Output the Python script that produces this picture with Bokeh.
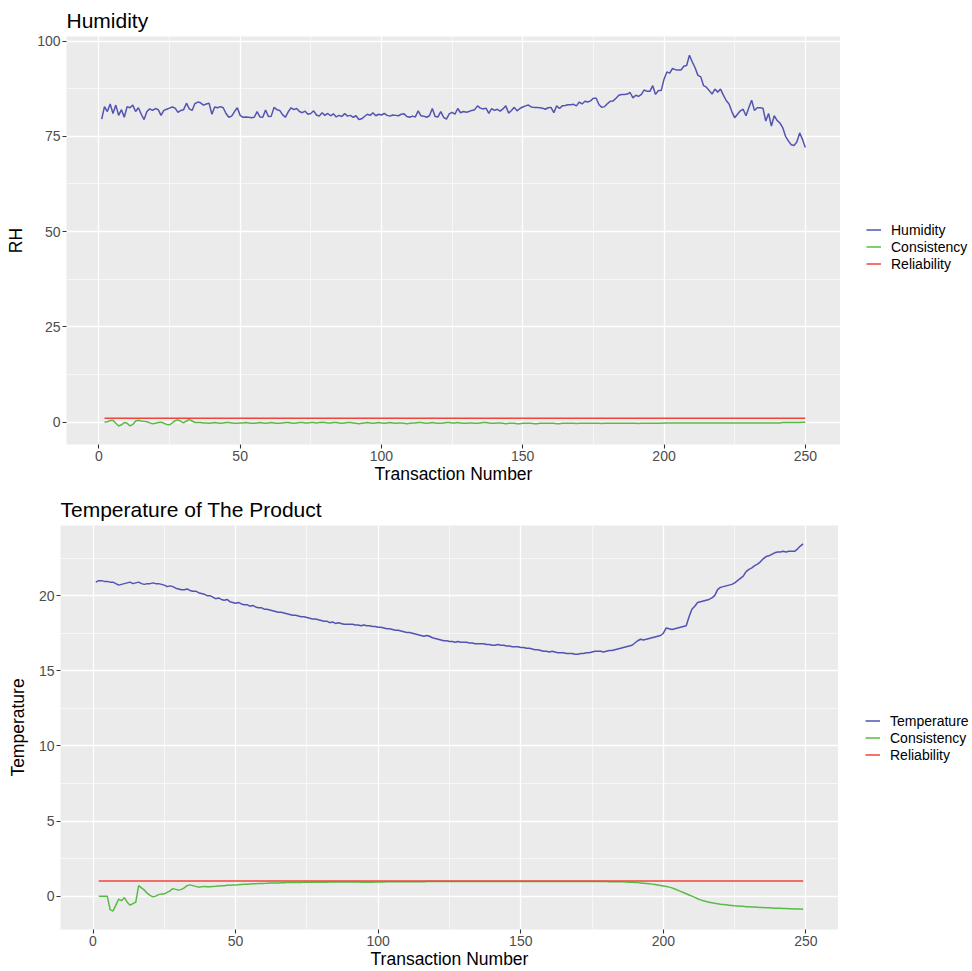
from bokeh.plotting import figure
from bokeh.models import Range1d, SingleIntervalTicker, Legend, LegendItem
from bokeh.layouts import column, row
from bokeh.embed import file_html
from bokeh.resources import INLINE

# ---------------- data ----------------
# Panel 1: Humidity (transactions 1..250)
humidity = [
    79.5, 82.8, 81.5, 83.5, 81.0, 83.2, 80.5, 82.0, 80.0, 82.8,
    82.5, 83.2, 81.5, 82.5, 80.8, 79.4, 81.5, 82.2, 81.8, 82.3,
    82.0, 80.5, 81.8, 82.1, 82.4, 82.7, 82.4, 81.3, 81.8, 82.0,
    83.7, 82.2, 81.8, 83.6, 84.0, 83.8, 83.2, 83.5, 83.7, 80.8,
    82.7, 82.5, 82.8, 82.5, 81.0, 80.0, 80.3, 81.5, 82.5, 80.5,
    80.0, 80.1, 80.0, 79.9, 80.0, 81.5, 80.1, 80.0, 81.9, 80.2,
    80.3, 82.6, 82.0, 81.8, 80.7, 80.0, 81.4, 82.5, 82.0, 82.3,
    81.5, 81.2, 81.6, 80.8, 81.0, 81.7, 80.6, 80.3, 81.2, 80.5,
    81.0, 80.4, 80.9, 80.1, 80.5, 80.2, 81.0, 80.3, 80.5, 80.0,
    80.4, 79.4, 79.6, 80.2, 80.8, 80.5, 81.2, 80.4, 80.8, 80.6,
    81.0, 80.5, 80.3, 80.6, 80.5, 80.4, 80.8, 80.9, 80.2, 80.0,
    80.3, 80.1, 81.7, 80.4, 80.3, 80.0, 80.4, 82.3, 80.2, 80.1,
    81.5, 80.0, 79.5, 80.9, 81.3, 80.8, 82.3, 81.2, 81.5, 81.3,
    81.5, 81.8, 82.0, 83.0, 82.4, 82.2, 82.4, 81.0, 82.3, 81.8,
    82.1, 81.6, 82.2, 83.0, 81.1, 81.8, 82.6, 81.7, 82.3, 82.7,
    83.0, 83.2, 82.7, 82.6, 82.6, 82.5, 82.4, 82.1, 82.5, 82.6,
    81.2, 83.0, 82.3, 83.0, 83.1, 83.3, 83.3, 83.4, 83.0, 84.0,
    83.5, 84.2, 84.0, 84.3, 85.0, 85.0, 83.3, 82.6, 82.8, 83.6,
    84.2, 84.3, 85.0, 85.8, 86.0, 86.0, 86.1, 86.5, 85.1, 85.8,
    85.5, 86.0, 87.2, 86.8, 86.8, 88.3, 86.0, 87.0, 87.0, 90.0,
    91.9, 91.6, 92.8, 92.5, 92.4, 92.4, 93.4, 93.6, 96.3, 94.5,
    93.0, 91.0, 90.6, 88.3, 87.9, 87.0, 86.1, 87.4, 86.6, 87.4,
    85.8, 84.4, 83.5, 81.5, 79.9, 80.8, 81.7, 82.1, 80.4, 82.5,
    84.5, 81.8, 82.5, 82.5, 82.4, 79.0, 81.0, 77.7, 80.4, 79.2,
    78.5, 77.3, 75.0, 73.8, 72.8, 72.6, 73.5, 75.9, 74.2, 72.1,
]
humidity_start = 1

hum_consistency = [
    0.0, 0.1, 0.4, 0.5, -0.3, -1.0, -0.7, -0.1, -0.3, -1.0,
    -0.6, 0.3, 0.5, 0.3, 0.2, 0.1, -0.2, -0.4, -0.3, -0.1,
    0.0, -0.3, -0.6, -0.7, -0.2, 0.4, 0.6, 0.2, -0.2, 0.3,
    0.7, 0.3, -0.1, -0.1,
    -0.1, -0.2, -0.2, -0.3, -0.2, -0.1, -0.2, -0.3, -0.2, -0.1,
    -0.1, -0.2, -0.3, -0.3, -0.2, -0.2, -0.1, -0.2, -0.3, -0.3,
    -0.2, -0.1, -0.2, -0.3, -0.2, -0.1, -0.2, -0.3, -0.3, -0.2,
    -0.1, -0.1, -0.2, -0.3, -0.2, -0.1, -0.1, -0.2, -0.2, -0.1,
    -0.1, -0.2, -0.1, 0.0, -0.1, -0.2, -0.2, -0.1, -0.1, -0.2,
    -0.3, -0.2, -0.1, -0.1, -0.2, -0.3, -0.4, -0.3, -0.2, -0.1,
    -0.2, -0.3, -0.2, -0.1, -0.2, -0.3, -0.2, -0.1, -0.2, -0.3,
    -0.2, -0.2, -0.3, -0.4, -0.3, -0.2, -0.2, -0.1, -0.1, -0.2,
    -0.3, -0.2, -0.1, -0.2, -0.3, -0.3, -0.2, -0.1, -0.1, -0.2,
    -0.2, -0.1, -0.2, -0.3, -0.3, -0.2, -0.2, -0.3, -0.3, -0.2,
    -0.1, -0.1, -0.2, -0.3, -0.3, -0.2, -0.2, -0.3, -0.4, -0.3,
    -0.3, -0.3, -0.4, -0.4, -0.3, -0.3, -0.3, -0.3, -0.4, -0.4,
    -0.3, -0.3, -0.3, -0.3, -0.3, -0.3, -0.4, -0.4, -0.3, -0.3,
    -0.3, -0.3, -0.3, -0.35, -0.3, -0.3, -0.3, -0.3, -0.3, -0.3,
    -0.3, -0.3, -0.35, -0.3, -0.3, -0.3, -0.3, -0.3, -0.3, -0.3,
    -0.3, -0.3, -0.3, -0.3, -0.3, -0.35, -0.3, -0.3, -0.3, -0.3,
    -0.3, -0.3, -0.3, -0.3, -0.2, -0.2, -0.2, -0.2, -0.2, -0.2,
    -0.2, -0.2, -0.2, -0.25, -0.2, -0.2, -0.2, -0.2, -0.2, -0.2,
    -0.2, -0.2, -0.2, -0.2, -0.2, -0.25, -0.2, -0.2, -0.2, -0.2,
    -0.2, -0.2, -0.2, -0.2, -0.2, -0.2, -0.2, -0.2, -0.2, -0.2,
    -0.2, -0.2, -0.2, -0.2, -0.2, -0.2, -0.1, -0.1, -0.1, -0.1,
    -0.1, -0.1, -0.1, 0.0, 0.0,
]
hum_consistency_start = 2

hum_reliability_x = [2, 250]
hum_reliability = [1.0, 1.0]

# Panel 2: Temperature of the product (transactions 1..249)
temperature = [
    20.9, 21.0, 21.0, 20.95, 20.95, 20.9, 20.9, 20.8, 20.7, 20.75,
    20.8, 20.85, 20.9, 20.8, 20.85, 20.9, 20.8, 20.75, 20.8, 20.8,
    20.85, 20.8, 20.8, 20.75, 20.7, 20.6, 20.65, 20.6, 20.5, 20.45,
    20.4, 20.4, 20.45, 20.35, 20.3, 20.3, 20.2, 20.15, 20.1, 20.0,
    20.0, 19.9, 19.8, 19.85, 19.75, 19.7, 19.75, 19.6, 19.55, 19.5,
    19.55, 19.45, 19.4, 19.4, 19.3, 19.35, 19.25, 19.2, 19.2, 19.1,
    19.1, 19.05, 19.0, 18.95, 18.9, 18.9, 18.85, 18.8, 18.75, 18.7,
    18.7, 18.65, 18.6, 18.6, 18.55, 18.5, 18.45, 18.45, 18.4, 18.35,
    18.3, 18.3, 18.2, 18.25, 18.15, 18.2, 18.15, 18.1, 18.1, 18.1,
    18.1, 18.05, 18.05, 18.0, 18.05, 18.0, 18.0, 17.95, 17.95, 17.9,
    17.9, 17.85, 17.8, 17.8, 17.75, 17.7, 17.7, 17.65, 17.6, 17.55,
    17.55, 17.5, 17.45, 17.4, 17.35, 17.3, 17.35, 17.3, 17.2, 17.15,
    17.1, 17.05, 17.0, 17.0, 16.95, 16.95, 16.9, 16.95, 16.9, 16.9,
    16.9, 16.85, 16.85, 16.8, 16.8, 16.8, 16.8, 16.75, 16.75, 16.7,
    16.7, 16.75, 16.7, 16.7, 16.65, 16.65, 16.6, 16.6, 16.6, 16.55,
    16.55, 16.5, 16.5, 16.45, 16.4, 16.4, 16.35, 16.3, 16.3, 16.25,
    16.3, 16.25, 16.2, 16.2, 16.2, 16.15, 16.15, 16.15, 16.1, 16.1,
    16.15, 16.15, 16.2, 16.2, 16.25, 16.3, 16.3, 16.3, 16.25, 16.3,
    16.35, 16.35, 16.4, 16.45, 16.5, 16.55, 16.6, 16.65, 16.7, 16.85,
    17.0, 17.1, 17.05, 17.1, 17.15, 17.2, 17.25, 17.3, 17.35, 17.5,
    17.85, 17.8, 17.75, 17.8, 17.85, 17.9, 17.95, 18.0, 18.6, 19.1,
    19.3, 19.55, 19.6, 19.65, 19.7, 19.75, 19.85, 20.0, 20.4, 20.55,
    20.6, 20.65, 20.7, 20.75, 20.85, 21.0, 21.15, 21.3, 21.6, 21.75,
    21.85, 22.0, 22.1, 22.25, 22.45, 22.6, 22.65, 22.75, 22.85, 22.9,
    22.9, 22.95, 22.9, 22.95, 22.95, 22.95, 23.1, 23.3, 23.45,
]
temperature_start = 1

temp_consistency = [
    0.0, 0.0, 0.0, 0.0, -0.9, -1.0, -0.6, -0.2, -0.3, -0.1,
    -0.4, -0.6, -0.5, -0.4, 0.7, 0.55, 0.4, 0.2, 0.05, -0.05,
    0.0, 0.1, 0.15, 0.15, 0.25, 0.35, 0.5, 0.45, 0.4, 0.45,
    0.55, 0.7, 0.75, 0.7, 0.65, 0.6, 0.62, 0.65, 0.63, 0.62,
    0.65, 0.66, 0.68, 0.7, 0.7, 0.72, 0.73, 0.74, 0.75, 0.76,
    0.78, 0.79, 0.8, 0.81, 0.82, 0.83, 0.84, 0.85, 0.85, 0.86,
    0.87, 0.87, 0.88, 0.88, 0.89, 0.89, 0.9, 0.9, 0.9, 0.91,
    0.91, 0.91, 0.92, 0.92, 0.92, 0.92, 0.93, 0.93, 0.93, 0.93,
    0.93, 0.94, 0.94, 0.94, 0.94, 0.94, 0.94, 0.94, 0.94, 0.94,
    0.94, 0.94, 0.93, 0.93, 0.93, 0.93, 0.93, 0.94, 0.94, 0.94,
    0.94, 0.95, 0.95, 0.95, 0.95, 0.95, 0.95, 0.96, 0.96, 0.96,
    0.96, 0.96, 0.96, 0.96, 0.96, 0.97, 0.97, 0.97, 0.97, 0.97,
    0.97, 0.97, 0.97, 0.97, 0.97, 0.97, 0.97, 0.97, 0.97, 0.97,
    0.97, 0.97, 0.97, 0.97, 0.97, 0.97, 0.97, 0.97, 0.97, 0.97,
    0.97, 0.97, 0.97, 0.97, 0.97, 0.97, 0.97, 0.97, 0.97, 0.97,
    0.97, 0.97, 0.97, 0.97, 0.97, 0.97, 0.97, 0.97, 0.97, 0.97,
    0.97, 0.97, 0.97, 0.97, 0.97, 0.97, 0.97, 0.97, 0.97, 0.97,
    0.97, 0.97, 0.97, 0.97, 0.97, 0.97, 0.97, 0.97, 0.97, 0.96,
    0.96, 0.96, 0.96, 0.95, 0.95, 0.94, 0.93, 0.92, 0.91, 0.9,
    0.88, 0.86, 0.84, 0.82, 0.8, 0.77, 0.74, 0.71, 0.68, 0.64,
    0.6, 0.55, 0.48, 0.4, 0.32, 0.24, 0.16, 0.08, 0.0, -0.08,
    -0.17, -0.25, -0.31, -0.36, -0.4, -0.44, -0.48, -0.51, -0.54, -0.56,
    -0.58, -0.6, -0.62, -0.64, -0.65, -0.67, -0.68, -0.7, -0.71, -0.72,
    -0.73, -0.74, -0.75, -0.76, -0.77, -0.78, -0.79, -0.8, -0.8, -0.81,
    -0.82, -0.83, -0.84, -0.84, -0.85, -0.86, -0.86, -0.87,
]
temp_consistency_start = 2

temp_reliability_x = [2, 249]
temp_reliability = [1.0, 1.0]

# ---------------- style ----------------
BLUE = "#5353B3"
GREEN = "#58BB45"
RED = "#F2443A"
FONT = "Liberation Sans"


def xs_from(start, values):
    return list(range(start, start + len(values)))


def make_panel(title, ylabel, x_range, y_range, y_interval, width, height,
               border_left, border_top, border_bottom):
    p = figure(width=width, height=height, output_backend="svg",
               toolbar_location=None, x_range=Range1d(*x_range),
               y_range=Range1d(*y_range),
               min_border_left=border_left, min_border_right=0,
               min_border_top=border_top, min_border_bottom=border_bottom)
    p.background_fill_color = "#EBEBEB"
    p.border_fill_color = "white"
    p.outline_line_color = None

    p.title.text = title
    p.title.text_font = FONT
    p.title.text_font_size = "21px"
    p.title.text_font_style = "normal"
    p.title.text_color = "black"
    p.title.align = "left"
    p.title.offset = 0
    p.title.standoff = 10

    p.xaxis.ticker = SingleIntervalTicker(interval=50, num_minor_ticks=2)
    p.yaxis.ticker = SingleIntervalTicker(interval=y_interval, num_minor_ticks=2)

    for ax in (p.xaxis, p.yaxis):
        ax.axis_line_color = None
        ax.major_tick_line_color = "#333333"
        ax.major_tick_line_width = 1.1
        ax.major_tick_in = 0
        ax.major_tick_out = 4
        ax.minor_tick_line_color = None
        ax.major_label_text_font = FONT
        ax.major_label_text_font_size = "14px"
        ax.major_label_text_color = "#4D4D4D"
        ax.major_label_standoff = 2
        ax.axis_label_text_font = FONT
        ax.axis_label_text_font_size = "17.5px"
        ax.axis_label_text_font_style = "normal"
        ax.axis_label_text_color = "black"
        ax.axis_label_standoff = 0

    p.xaxis.axis_label = "Transaction Number"
    p.yaxis.axis_label = ylabel
    p.yaxis.axis_label_standoff = 8

    for g in (p.xgrid, p.ygrid):
        g.grid_line_color = "white"
        g.grid_line_width = 1.3
        g.minor_grid_line_color = "white"
        g.minor_grid_line_width = 0.6
    return p


def legend_panel(series, width, height, loc):
    """A narrow companion canvas that only holds the legend.
    The series are drawn again here but fall outside its (far-away) range,
    so only their legend keys are visible."""
    q = figure(width=width, height=height, output_backend="svg",
               toolbar_location=None, x_axis_type=None, y_axis_type=None,
               x_range=Range1d(-2000, -1999), y_range=Range1d(-2000, -1999),
               min_border=0)
    q.outline_line_color = None
    q.background_fill_color = "white"
    q.border_fill_color = "white"
    q.xgrid.visible = False
    q.ygrid.visible = False
    items = []
    for label, xs, ys, color in series:
        r = q.line(xs, ys, line_color=color, line_width=1.5)
        items.append(LegendItem(label=label, renderers=[r]))
    leg = Legend(items=items, location=loc)
    leg.label_text_font = FONT
    leg.label_text_font_size = "14px"
    leg.label_text_color = "black"
    leg.label_standoff = 10
    leg.label_height = 17
    leg.glyph_height = 17
    leg.glyph_width = 15
    leg.spacing = 0
    leg.padding = 0
    leg.margin = 0
    leg.border_line_color = None
    leg.background_fill_alpha = 0
    q.add_layout(leg)
    return q


H1, H2 = 486, 485

# Panel 1
s1 = [
    ("Humidity", xs_from(humidity_start, humidity), humidity, BLUE),
    ("Consistency", xs_from(hum_consistency_start, hum_consistency), hum_consistency, GREEN),
    ("Reliability", hum_reliability_x, hum_reliability, RED),
]
p1 = make_panel("Humidity", "RH", (-11.45, 262.45), (-5.87, 101.2), 25,
                width=840, height=H1, border_left=66, border_top=36,
                border_bottom=40)
for _, xs, ys, color in s1:
    p1.line(xs, ys, line_color=color, line_width=1.5)
l1 = legend_panel(s1, width=132, height=H1, loc=(26, 172))

# Panel 2
s2 = [
    ("Temperature", xs_from(temperature_start, temperature), temperature, BLUE),
    ("Consistency", xs_from(temp_consistency_start, temp_consistency), temp_consistency, GREEN),
    ("Reliability", temp_reliability_x, temp_reliability, RED),
]
p2 = make_panel("Temperature of The Product", "Temperature", (-11.4, 261.4),
                (-2.22, 24.67), 5, width=838, height=H2, border_left=60,
                border_top=39, border_bottom=40)
for _, xs, ys, color in s2:
    p2.line(xs, ys, line_color=color, line_width=1.5)
l2 = legend_panel(s2, width=134, height=H2, loc=(27, 166))

layout = column(row(p1, l1, spacing=0), row(p2, l2, spacing=0), spacing=0)
open("out.html", "w").write(file_html(layout, INLINE))
